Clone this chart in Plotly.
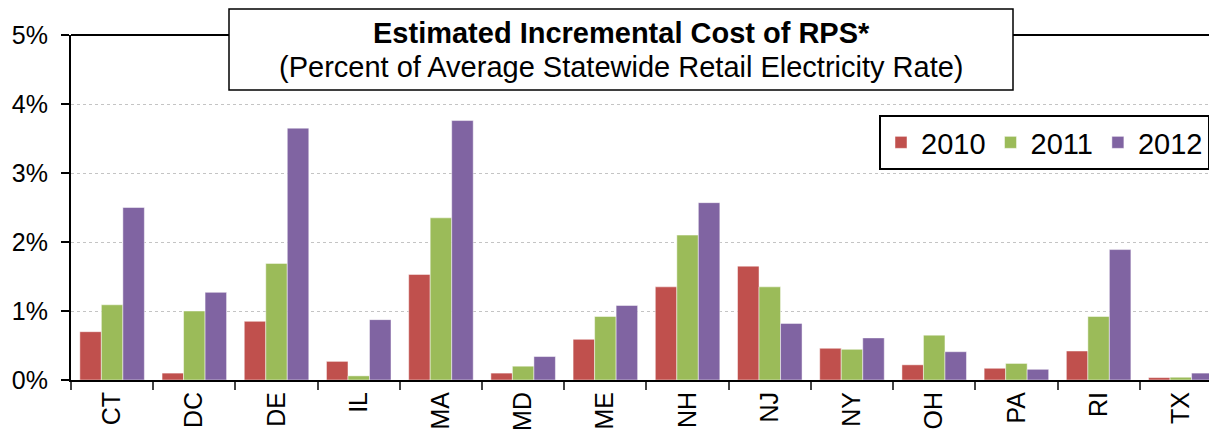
import plotly.graph_objects as go

states = ["CT", "DC", "DE", "IL", "MA", "MD", "ME", "NH", "NJ", "NY", "OH", "PA", "RI", "TX"]
v2010 = [0.70, 0.10, 0.85, 0.27, 1.53, 0.10, 0.59, 1.35, 1.65, 0.46, 0.22, 0.17, 0.42, 0.035]
v2011 = [1.09, 1.00, 1.69, 0.06, 2.35, 0.20, 0.92, 2.10, 1.35, 0.445, 0.65, 0.24, 0.92, 0.04]
v2012 = [2.50, 1.27, 3.65, 0.875, 3.76, 0.34, 1.08, 2.57, 0.82, 0.61, 0.41, 0.155, 1.89, 0.10]
series = [("2010", v2010, "#C0504D"), ("2011", v2011, "#9BBB59"), ("2012", v2012, "#8064A2")]
yticks = [0, 1, 2, 3, 4, 5]
ytick_text = ["0%", "1%", "2%", "3%", "4%", "5%"]

FONT = "Liberation Sans, Arial, sans-serif"

fig = go.Figure()
for name, vals, col in series:
    fig.add_trace(go.Bar(
        x=states, y=vals, name=name,
        marker=dict(color=col, line=dict(color="rgba(255,255,255,0.6)", width=0.8)),
    ))

OFF = 8  # page body margin
W, H = 1217 - OFF, 434 - OFF
ml, mr, mt, mb = 71 - OFF, 0, 35 - OFF, 54
pw = W - ml - mr
ph = H - mt - mb

def px_x(x):
    return (x - OFF - ml) / pw

def px_y(y):
    return (OFF + H - mb - y) / ph

fig.update_layout(
    width=W, height=H,
    margin=dict(l=ml, r=mr, t=mt, b=mb, pad=0),
    barmode="group", bargap=0.215, bargroupgap=0,
    plot_bgcolor="white", paper_bgcolor="white",
    font=dict(family=FONT, color="black"),
    showlegend=True,
    legend=dict(
        orientation="h", x=px_x(1210), xanchor="right", y=px_y(115), yanchor="top",
        bordercolor="black", borderwidth=2, bgcolor="white",
        font=dict(size=29, family=FONT, color="black"),
        traceorder="normal",
    ),
    xaxis=dict(
        range=[-0.5, 13.44], showline=True, linecolor="black", linewidth=2,
        ticks="outside", ticklen=8, tickcolor="#444", tickwidth=1.5, tickson="boundaries",
        tickangle=-90, tickfont=dict(size=25, family=FONT, color="black"),
        showgrid=False, fixedrange=True,
    ),
    yaxis=dict(
        range=[0, 5], tickvals=yticks, ticktext=ytick_text,
        showline=True, linecolor="black", linewidth=2,
        ticks="outside", ticklen=8, tickcolor="black", tickwidth=1.5,
        ticklabelstandoff=8,
        tickfont=dict(size=25, family=FONT, color="black"),
        showgrid=True, gridcolor="#C4C4C4", griddash="dot", gridwidth=1,
        zeroline=False,
    ),
    shapes=[
        dict(type="line", xref="paper", yref="paper", x0=0, x1=1, y0=1, y1=1,
             line=dict(color="black", width=2), layer="above"),
        dict(type="rect", xref="paper", yref="paper",
             x0=px_x(229), x1=px_x(1013), y0=px_y(90), y1=px_y(9),
             fillcolor="white", line=dict(color="black", width=1.5), layer="above"),
    ],
    annotations=[
        dict(text="<b>Estimated Incremental Cost of RPS*</b>", xref="paper", yref="paper",
             x=px_x(621), y=px_y(33), xanchor="center", yanchor="middle", showarrow=False,
             font=dict(size=29, family=FONT, color="black")),
        dict(text="(Percent of Average Statewide Retail Electricity Rate)", xref="paper", yref="paper",
             x=px_x(621), y=px_y(67), xanchor="center", yanchor="middle", showarrow=False,
             font=dict(size=29, family=FONT, color="black")),
    ],
)

fig.write_html("out.html")
